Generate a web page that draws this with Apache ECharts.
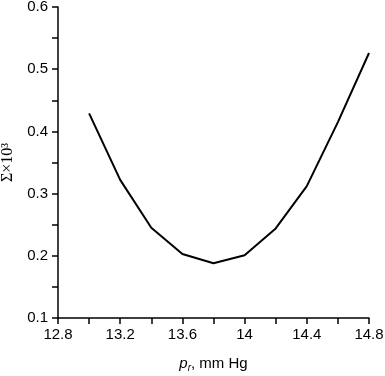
<!DOCTYPE html>
<html>
<head>
    <meta charset="utf-8">
    <title>ECharts</title>
    <script src="https://cdn.jsdelivr.net/npm/echarts@6/dist/echarts.min.js"></script>
</head>
<body style="margin:0">
<div id="main" style="width: 385px;height:376px;"></div>
<script type="text/javascript">
    // pressure, mm Hg
    const pressure = [13.0, 13.2, 13.4, 13.6, 13.8, 14.0, 14.2, 14.4, 14.6, 14.8];
    // Sigma x 10^3
    const sigma = [0.429, 0.322, 0.245, 0.203, 0.188, 0.201, 0.244, 0.312, 0.415, 0.526];

    let myChart = echarts.init(document.getElementById('main'));
    const axisFont = {fontFamily: 'Liberation Sans', fontSize: 15, color: '#000'};

    myChart.setOption({
        animation: false,
        grid: {left: 58, right: 16, top: 7, bottom: 58, outerBoundsMode: 'none'},
        xAxis: {
            type: 'value',
            min: 12.8, max: 14.8, interval: 0.4,
            axisLine: {lineStyle: {color: '#000', width: 1.5}},
            axisTick: {inside: false, length: 6, lineStyle: {color: '#000', width: 1.5}},
            minorTick: {show: true, splitNumber: 2, length: 6, lineStyle: {color: '#000', width: 1.5}},
            splitLine: {show: false},
            axisLabel: Object.assign({margin: 9}, axisFont),
            name: '{p|p}{s|r}{t|, mm Hg}',
            nameLocation: 'middle',
            nameGap: 37,
            nameTextStyle: {
                rich: {
                    p: {fontFamily: 'Liberation Sans', fontStyle: 'italic', fontSize: 15, color: '#000'},
                    s: {fontFamily: 'Liberation Sans', fontStyle: 'italic', fontSize: 10, color: '#000', verticalAlign: 'bottom', padding: [8, 0, 0, 0]},
                    t: {fontFamily: 'Liberation Sans', fontSize: 15, color: '#000'}
                }
            }
        },
        yAxis: {
            type: 'value',
            min: 0.1, max: 0.6, interval: 0.1,
            axisLine: {show: true, lineStyle: {color: '#000', width: 1.5}},
            axisTick: {show: true, length: 6, lineStyle: {color: '#000', width: 1.5}},
            minorTick: {show: true, splitNumber: 2, length: 6, lineStyle: {color: '#000', width: 1.5}},
            splitLine: {show: false},
            axisLabel: Object.assign({margin: 10}, axisFont),
            name: 'Σ×10³',
            nameLocation: 'middle',
            nameGap: 37,
            nameTextStyle: {fontFamily: 'Liberation Serif', fontSize: 16, color: '#000'}
        },
        series: [{
            type: 'line',
            data: pressure.map((p, i) => [p, sigma[i]]),
            showSymbol: false,
            lineStyle: {color: '#000', width: 2}
        }]
    });
</script>
</body>
</html>
